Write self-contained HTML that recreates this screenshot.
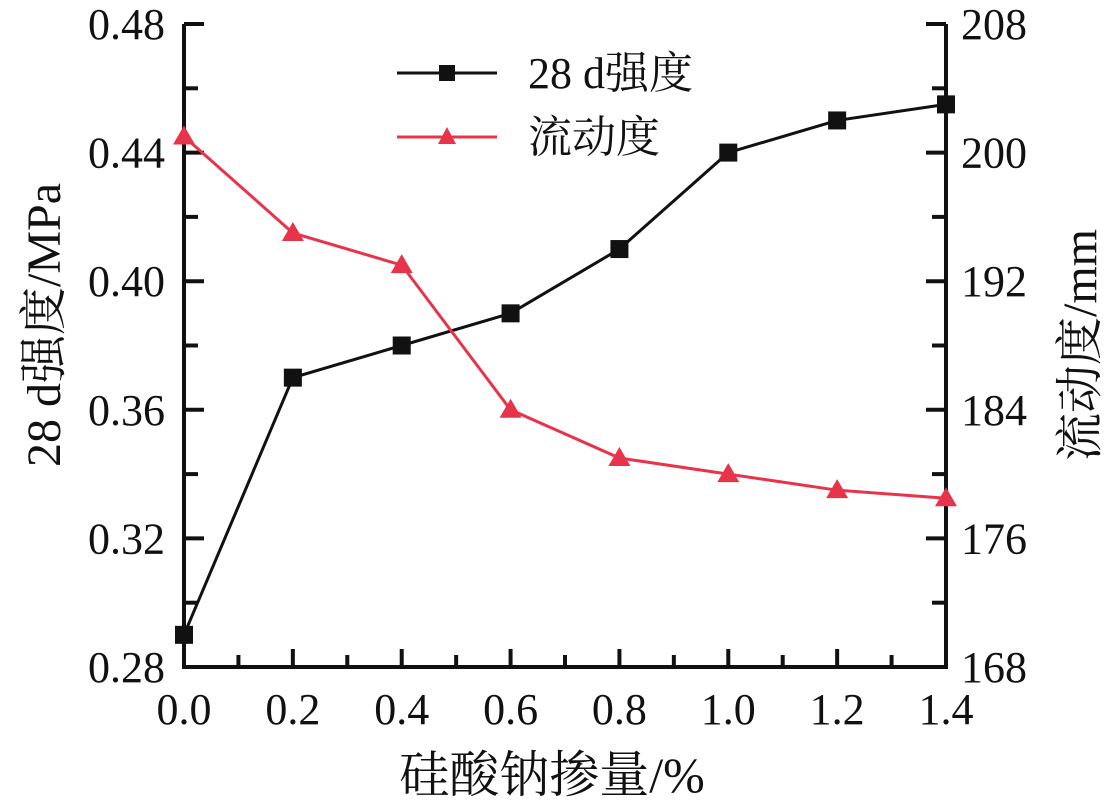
<!DOCTYPE html>
<html><head><meta charset="utf-8"><style>
body{margin:0;background:#fff}
svg text{font-family:"Liberation Serif","Noto Serif CJK SC",serif;fill:#111}
</style></head><body>
<svg width="1115" height="807">
<g id="axes"></g><g id="marks"></g>
<g>
<line x1="397" y1="73" x2="497" y2="73" stroke="#111" stroke-width="3"/>
<rect x="439" y="65" width="16" height="16" fill="#111"/>
<text x="528" y="88" font-size="44">28 d强度</text>
<line x1="397" y1="137" x2="497" y2="137" stroke="#e8344a" stroke-width="3"/>
<polygon points="447,127 438,144 456,144" fill="#e8344a"/>
<text x="528" y="152" font-size="44">流动度</text>
</g>
<text x="552" y="792" font-size="50" text-anchor="middle">硅酸钠掺量/%</text>
<text transform="translate(60,325) rotate(-90)" font-size="48" text-anchor="middle">28 d强度/MPa</text>
<text transform="translate(1096,345) rotate(-90)" font-size="48" text-anchor="middle">流动度/mm</text>
</svg>
<script>
const categories=[0,0.2,0.4,0.6,0.8,1.0,1.2,1.4];
const strength=[0.29,0.37,0.38,0.39,0.41,0.44,0.45,0.455];
const flow=[201,195,193,184,181,180,179,178.5];
const xTicks=["0.0","0.2","0.4","0.6","0.8","1.0","1.2","1.4"];
const yLeftTicks=["0.28","0.32","0.36","0.40","0.44","0.48"];
const yRightTicks=["168","176","184","192","200","208"];
const L=184,R=946,T=24,B=667;
const xs=v=>L+(v-0)/1.4*(R-L);
const yl=v=>B-(v-0.28)/0.2*(B-T);
const yr=v=>B-(v-168)/40*(B-T);
const NS="http://www.w3.org/2000/svg";
const ax=document.getElementById('axes'),mk=document.getElementById('marks');
function el(p,t,a){const e=document.createElementNS(NS,t);for(const k in a)e.setAttribute(k,a[k]);p.appendChild(e);return e;}
const frame=el(ax,'path',{d:`M${L},${T}V${B}H${R}V${T}`,fill:'none',stroke:'#111','stroke-width':4});


for(let i=0;i<=14;i++){const x=xs(i*0.1),len=i%2?12:18;el(ax,'line',{x1:x,y1:B,x2:x,y2:B-len,stroke:'#111','stroke-width':4});}
xTicks.forEach(t=>{const tx=el(ax,'text',{x:xs(parseFloat(t)),y:724,'font-size':44,'text-anchor':'middle'});tx.textContent=t;

});
for(let i=0;i<=10;i++){const y=B-i*(B-T)/10,len=i%2?14:20;
el(ax,'line',{x1:L,y1:y,x2:L+len,y2:y,stroke:'#111','stroke-width':4});
el(ax,'line',{x1:R,y1:y,x2:R-len,y2:y,stroke:'#111','stroke-width':4});}
yLeftTicks.forEach(t=>{const tx=el(ax,'text',{x:165,y:yl(parseFloat(t))+15,'font-size':44,'text-anchor':'end'});tx.textContent=t;

});
yRightTicks.forEach(t=>{const tx=el(ax,'text',{x:961,y:yr(parseFloat(t))+15,'font-size':44});tx.textContent=t;

});
const l1=el(mk,'polyline',{points:categories.map((c,i)=>xs(c)+','+yl(strength[i])).join(' '),fill:'none',stroke:'#111','stroke-width':3});


const l2=el(mk,'polyline',{points:categories.map((c,i)=>xs(c)+','+yr(flow[i])).join(' '),fill:'none',stroke:'#e8344a','stroke-width':3});


categories.forEach((c,i)=>{
const r=el(mk,'rect',{x:xs(c)-9,y:yl(strength[i])-9,width:18,height:18,fill:'#111'});


const x=xs(c),y=yr(flow[i]);
const p=el(mk,'polygon',{points:`${x},${y-11} ${x-11},${y+8} ${x+11},${y+8}`,fill:'#e8344a'});


});
</script>
</body></html>
